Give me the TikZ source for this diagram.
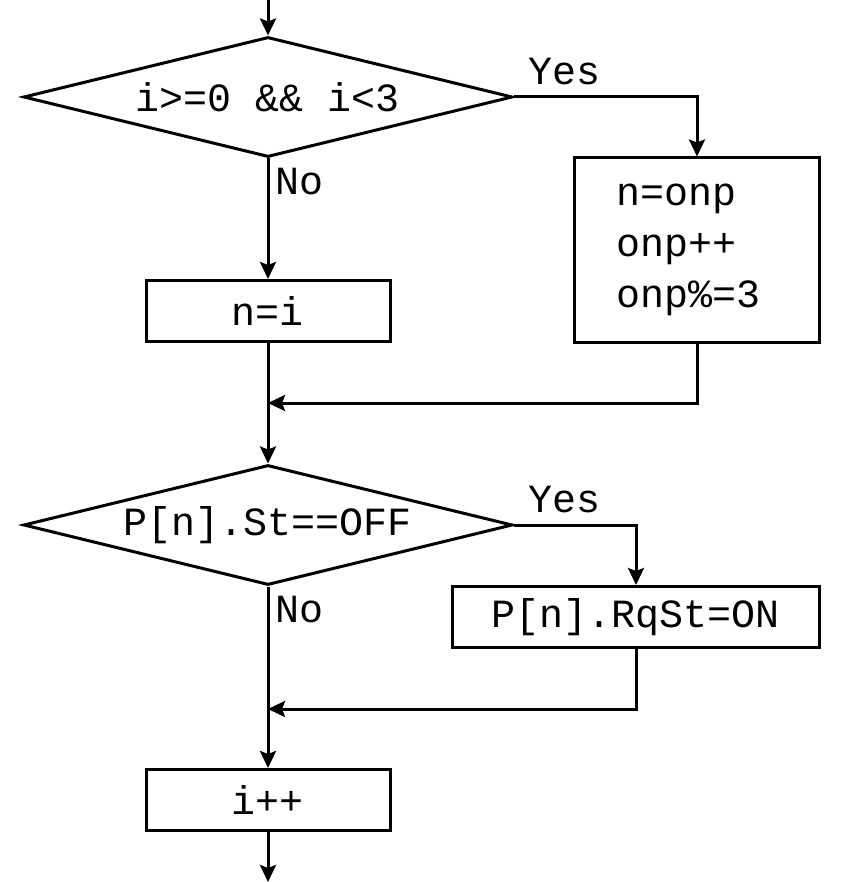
\documentclass[tikz,border=0pt]{standalone}
\usepackage{fontspec}
\setmonofont{Liberation Mono}
\usetikzlibrary{shapes.geometric,arrows.meta}

\tikzset{
  decision/.style={diamond,draw,line width=1.5pt,inner sep=0pt,aspect=4,
    minimum width=244.5pt,minimum height=60pt},
  process/.style={rectangle,draw,line width=1.5pt,minimum width=122pt,minimum height=30.5pt},
  flow/.style={line width=1.5pt,->},
}

\begin{document}
\begin{tikzpicture}[x=0.5pt,y=-0.5pt,>={Stealth[length=8.5pt,width=8pt,inset=1.5pt]},
    every node/.style={font=\fontsize{20}{25.5}\selectfont\ttfamily}]
        \useasboundingbox (0,0) rectangle (861,882);
        \coordinate (start) at (268,0);
        \node[decision] (range) at (268,97) {i>=0 \&\& i<3};
        \node[process,minimum width=122.5pt,minimum height=92pt,align=left,
          inner xsep=21pt,text width=80.5pt] (next) at (697,250) {n=onp\\onp++\\onp\%=3};
        \node[process] (direct) at (268,311) {n=i};
        \coordinate (join1) at (268,403);
        \node[decision] (state) at (268,525) {P[n].St==OFF};
        \node[process,minimum width=183.5pt] (request) at (636,617) {P[n].RqSt=ON};
        \coordinate (join2) at (268,709);
        \node[process] (incr) at (268,800) {i++};
        \coordinate (end) at (268,882);
        % labels
        \node (yes1) at (564,72) {Yes};
        \node (no1) at (299,182) {No};
        \node (yes2) at (564,500) {Yes};
        \node (no2) at (299,610) {No};
        % connectors
        \draw[flow] (start)--(range);
        \draw[flow] (range.east)-|(next.north);
        \draw[flow] (range)--(direct);
        \draw[flow] (next.south)|-(join1);
        \draw[flow] (direct)--(state);
        \draw[flow] (state.east)-|(request.north);
        \draw[flow] (request.south)|-(join2);
        \draw[flow] (state)--(incr);
        \draw[flow] (incr)--(end);
    \end{tikzpicture}
\end{document}
